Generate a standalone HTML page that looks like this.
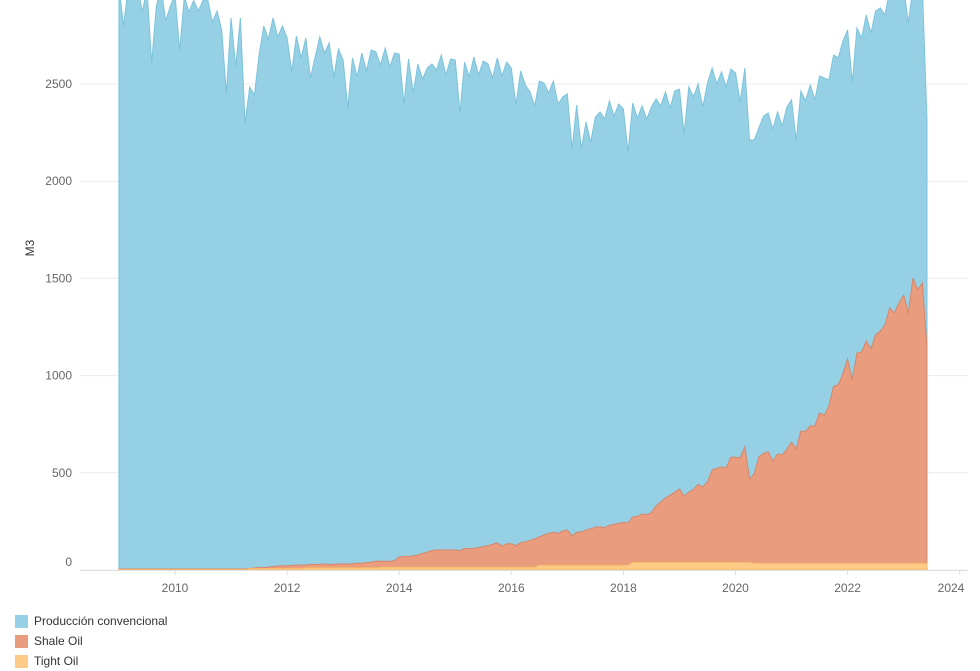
<!DOCTYPE html>
<html><head><meta charset="utf-8">
<style>
html,body{margin:0;padding:0;background:#fff;}
body{width:980px;height:660px;overflow:hidden;font-family:"Liberation Sans",sans-serif;position:relative;}
svg{position:absolute;left:0;top:0;}
.legend{position:absolute;left:15px;top:611px;font-size:12px;color:#333;}
.item{height:20px;display:flex;align-items:center;}
.sw{width:13px;height:13px;margin-right:6px;}
</style></head>
<body>
<svg id="chart" width="980" height="660" xmlns="http://www.w3.org/2000/svg"></svg>
<div class="legend">
  <div class="item"><div class="sw" style="background:#96d0e4"></div>Producción convencional</div>
  <div class="item"><div class="sw" style="background:#e99c7e"></div>Shale Oil</div>
  <div class="item"><div class="sw" style="background:#fdcb86"></div>Tight Oil</div>
</div>
<script>
const startYear = 2009;
const yTicks = [0,500,1000,1500,2000,2500];
const xTicks = [2010,2012,2014,2016,2018,2020,2022,2024];
const totalProduction = [3000,2800,3000,3050,3000,2870,2990,2608,2900,3000,2824,2900,2960,2670,2950,2870,2930,2876,2930,2935,2819,2876,2778,2449,2840,2588,2840,2299,2485,2443,2649,2798,2731,2840,2742,2798,2737,2562,2747,2634,2737,2531,2639,2742,2659,2711,2536,2680,2623,2377,2634,2536,2659,2567,2675,2665,2598,2685,2588,2659,2654,2397,2629,2454,2603,2526,2582,2603,2572,2649,2546,2629,2623,2351,2613,2536,2639,2546,2618,2603,2531,2634,2541,2613,2582,2392,2567,2495,2459,
2387,2515,2505,2454,2515,2397,2433,2449,2166,2392,2166,2305,2202,2330,2356,2320,2413,2335,2397,2371,2150,2402,2325,2387,2320,2382,2423,2387,2459,2377,2464,2474,2243,2485,2433,2500,2382,2505,2582,2500,2562,2485,2577,2557,2407,2582,2212,2212,2274,2335,2351,2268,2356,2284,2382,2418,2207,2464,2413,2495,2418,2541,2531,2521,2649,2634,2721,2778,2505,2788,2737,2855,2762,2876,2891,2855,2980,3000,2960,3000,2814,3000,3050,3000,2310];
const shaleOil = [3,3,3,3,3,3,3,3,3,3,3,3,3,3,3,3,3,3,3,3,3,3,3,3,3,3,3,3,
0,2,4,4,7,10,12,14,14,16,17,17,
14,16,16,18,18,16,18,18,20,18,20,23,23,26,28,33,
30,30,30,33,
52,55,55,57,63,70,77,85,88,88,88,88,88,85,95,95,97,100,105,110,117,124,108,120,120,110,125,130,137,145,
145,155,163,170,163,175,181,150,170,170,181,187,195,197,193,205,210,215,220,217,
233,235,248,245,255,290,310,330,345,360,377,340,360,375,400,387,413,475,482,490,485,540,540,536,593,428,
459,546,565,572,525,562,557,585,623,587,680,677,706,706,773,760,809,910,917,975,1050,942,1081,1086,1143,1102,1174,1194,1225,1313,1287,1338,1379,1287,1467,1405,1441,1112];
const tightOil = [].concat(Array(28).fill(2),Array(12).fill(8),Array(16).fill(12),Array(34).fill(15),Array(20).fill(25),Array(26).fill(40),Array(38).fill(35));

const svg = document.getElementById('chart');
const NS = 'http://www.w3.org/2000/svg';
const X0 = 80, X1 = 968, Y0 = 570;
const yScale = v => Y0 - v * 0.1944;
const xYear = yr => 175 + (yr - 2010) * 56.05;
const xIdx = i => xYear(startYear + i / 12);
function mk(tag, attrs){const e=document.createElementNS(NS,tag);for(const k in attrs)e.setAttribute(k,attrs[k]);svg.appendChild(e);return e;}

const clip = mk('clipPath',{id:'pc'});
const cr = document.createElementNS(NS,'rect');
cr.setAttribute('x',X0);cr.setAttribute('y',0);cr.setAttribute('width',X1-X0);cr.setAttribute('height',Y0+1);
clip.appendChild(cr);

yTicks.forEach(v=>{
  const g = mk('line',{x1:X0,x2:X1,y1:yScale(v),y2:yScale(v),stroke:'#ececec','stroke-width':1});
  
  
  const t = mk('text',{x:72,y:yScale(v)+(v===0?-4:4),'text-anchor':'end','font-size':12,fill:'#666','font-family':'Liberation Sans, sans-serif'});
  t.textContent = v;
  
  
});

const n = totalProduction.length;
const tightTop = [], shaleTop = [], convTop = [];
for(let i=0;i<n;i++){
  tightTop.push(tightOil[i]);
  shaleTop.push(tightOil[i]+shaleOil[i]);
  convTop.push(totalProduction[i]);
}
function band(top, bottom){
  let d='';
  for(let i=0;i<n;i++) d+=(i?'L':'M')+xIdx(i).toFixed(2)+','+yScale(top[i]).toFixed(2);
  for(let i=n-1;i>=0;i--) d+='L'+xIdx(i).toFixed(2)+','+yScale(bottom?bottom[i]:0).toFixed(2);
  return d+'Z';
}
const conv = mk('path',{d:band(convTop,shaleTop),fill:'#96d0e4',stroke:'#7cc3dc','stroke-width':1,'clip-path':'url(#pc)'});


const sh = mk('path',{d:band(shaleTop,tightTop),fill:'#e99c7e',stroke:'#d9876a','stroke-width':1,'clip-path':'url(#pc)'});


const ti = mk('path',{d:band(tightTop,null),fill:'#fdcb86',stroke:'#f5b76a','stroke-width':1,'clip-path':'url(#pc)'});



const ax = mk('line',{x1:X0,x2:X1,y1:Y0+0.5,y2:Y0+0.5,stroke:'#e0e0e0','stroke-width':1});


xTicks.forEach(yr=>{
  const x = xYear(yr);
  const tk = mk('line',{x1:x,x2:x,y1:Y0,y2:Y0+5,stroke:'#ddd','stroke-width':1});
  
  
  const t = mk('text',{x:Math.min(x,951),y:592,'text-anchor':'middle','font-size':12,fill:'#666','font-family':'Liberation Sans, sans-serif'});
  t.textContent = yr;
  
  
});
const yt = mk('text',{x:34,y:248,'text-anchor':'middle','font-size':12,fill:'#333',transform:'rotate(-90 34 248)','font-family':'Liberation Sans, sans-serif'});
yt.textContent = 'M3';


</script>
</body></html>
